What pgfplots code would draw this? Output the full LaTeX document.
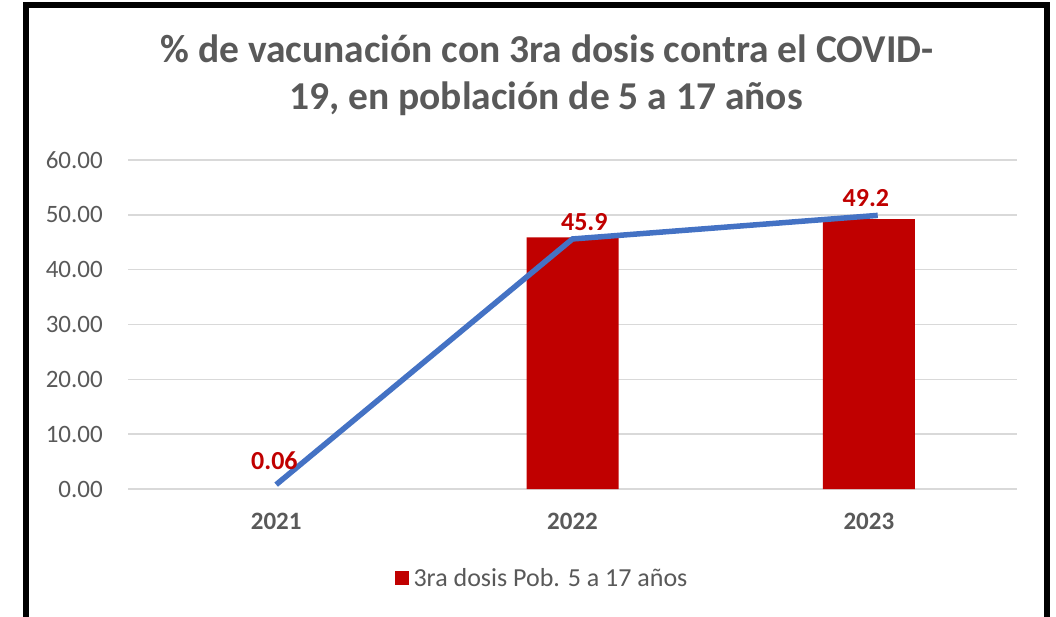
\documentclass[border=0pt]{standalone}
\usepackage{pgfplots}
\pgfplotsset{compat=1.18}
\usepackage{fontspec}
\setmainfont{Carlito}
\definecolor{titlegray}{HTML}{595959}
\definecolor{gridgray}{HTML}{D9D9D9}
\definecolor{barred}{HTML}{C00000}
\definecolor{lineblue}{HTML}{4472C4}
\begin{document}
\begin{tikzpicture}[x=1pt,y=1pt]
\useasboundingbox (0,0) rectangle (1056,616);
\draw[line width=6pt] (26,-20) -- (26,610.5) -- (1046.5,610.5) -- (1046.5,-20);
\node[font=\fontsize{39.5}{46}\selectfont\bfseries, text=titlegray, anchor=base, inner sep=0] at (547,553) {\% de vacunación con 3ra dosis contra el COVID-};
\node[font=\fontsize{39.5}{46}\selectfont\bfseries, text=titlegray, anchor=base, inner sep=0] at (546,506) {19, en población de 5 a 17 años};
\begin{axis}[
  at={(128pt,127pt)}, anchor=south west,
  scale only axis, width=889pt, height=329pt,
  xmin=-0.5, xmax=2.5, ymin=0, ymax=60,
  xtick={0,1,2}, xticklabels={2021,2022,2023},
  ytick={0,10,...,60},
  ymajorgrids, grid style={gridgray, line width=1.6pt},
  axis line style={draw=none},
  major tick length=0pt,
  /pgf/number format/assume math mode=true,
  yticklabel={\pgfmathprintnumber[fixed,fixed zerofill,precision=2]{\tick}},
  yticklabel style={font=\fontsize{25}{30}\selectfont, text=titlegray, anchor=east, inner sep=0pt, xshift=-25pt},
  xticklabel style={font=\fontsize{25}{30}\selectfont\bfseries, text=titlegray, anchor=north, inner sep=0pt, yshift=-24pt},
  legend style={draw=none, at={(0.4657,-0.27)}, anchor=center, font=\fontsize{26}{30}\selectfont, text=titlegray, inner sep=0pt},
  legend image code/.code={\fill[barred] (0pt,-7pt) rectangle (14pt,7pt);},
  clip=false,
]
\addplot[ybar, bar width=92pt, fill=barred, draw=none] coordinates {(1,45.9) (2,49.2)};
\addlegendentry{\hspace*{3pt}3ra dosis Pob. 5 a 17 años}
\addplot[forget plot, lineblue, line width=5.5pt, mark=none] coordinates {(0,0.8) (1,45.6) (2.03,49.9)};
\node[font=\fontsize{26}{30}\selectfont\bfseries, text=barred] at (axis cs:-0.006,5.1) {0.06};
\node[font=\fontsize{26}{30}\selectfont\bfseries, text=barred] at (axis cs:1.04,48.7) {45.9};
\node[font=\fontsize{26}{30}\selectfont\bfseries, text=barred] at (axis cs:1.99,53.1) {49.2};
\end{axis}
\end{tikzpicture}
\end{document}
